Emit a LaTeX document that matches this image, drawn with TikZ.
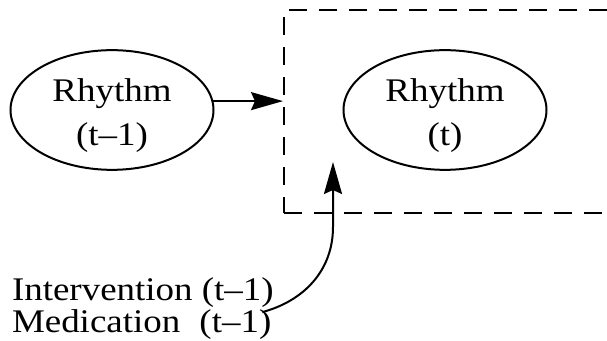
\documentclass[tikz,border=0pt]{standalone}
\usepackage{fontspec}
\setmainfont{Liberation Serif}[FakeStretch=1.12]
\usetikzlibrary{shapes.geometric,arrows.meta}

\begin{document}
\begin{tikzpicture}[x=0.5pt, y=-0.5pt, >={Stealth[length=16pt,width=9pt,inset=2pt]},
    line width=1pt,
    rhythm/.style={draw, ellipse, minimum width=101.5pt, minimum height=54pt, inner sep=0pt,
      align=center, font=\fontsize{16.5}{22}\selectfont},
    inlabel/.style={inner sep=0pt, anchor=base west, font=\fontsize{16.5}{16}\selectfont}]
	\useasboundingbox (0,0) rectangle (607,341);

	% === time slice t ===
	\node[draw, dash pattern=on 9pt off 6pt, anchor=north west,
	  minimum width=180pt, minimum height=101.5pt] (slice) at (283,9) {};
	\node[rhythm] (rprev) at (112,110) {\rule{0pt}{16.8pt}Rhythm\\(t–1)};
	\node[rhythm] (rnow) at (445,110) {\rule{0pt}{16.8pt}Rhythm\\(t)};
	\draw[->] (rprev.5) -- (rprev.5 -| slice.west);

	% === inputs ===
	\node[inlabel] (interv) at (11,301) {Intervention (t–1)};
	\node[inlabel] (medic) at (11,333) {Medication\hspace{0.58em}(t–1)};
	\coordinate (bend) at (333,227);
	\coordinate (tip) at (333,162);
	\draw[->] ([xshift=-5pt, yshift=-1.5pt]medic.north east) to[out=15, in=-90] (bend) -- (tip);
\end{tikzpicture}
\end{document}
